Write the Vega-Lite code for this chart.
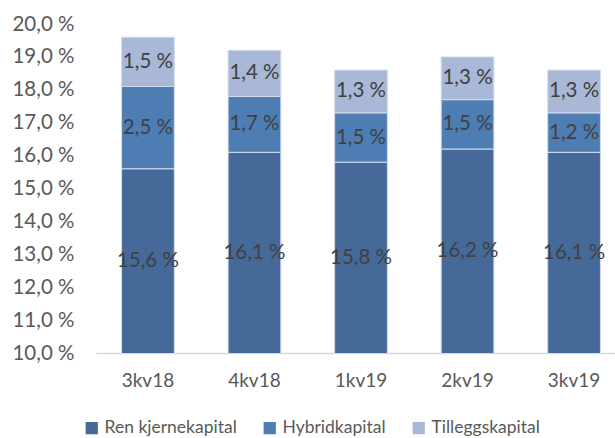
{
  "$schema": "https://vega.github.io/schema/vega-lite/v6.json",
  "width": 519,
  "height": 329,
  "autosize": "none",
  "padding": {"left": 96, "top": 24, "right": 0, "bottom": 85},
  "background": "white",
  "config": {
    "view": {"stroke": null},
    "font": "Lato",
    "axisY": {"labelOverlap": false, "tickCount": 11}
  },
  "data": {
    "values": [
      {"q": "3kv18", "type": "Ren kjernekapital", "ord": 1, "v": 15.6},
      {"q": "3kv18", "type": "Hybridkapital", "ord": 2, "v": 2.5},
      {"q": "3kv18", "type": "Tilleggskapital", "ord": 3, "v": 1.5},
      {"q": "4kv18", "type": "Ren kjernekapital", "ord": 1, "v": 16.1},
      {"q": "4kv18", "type": "Hybridkapital", "ord": 2, "v": 1.7},
      {"q": "4kv18", "type": "Tilleggskapital", "ord": 3, "v": 1.4},
      {"q": "1kv19", "type": "Ren kjernekapital", "ord": 1, "v": 15.8},
      {"q": "1kv19", "type": "Hybridkapital", "ord": 2, "v": 1.5},
      {"q": "1kv19", "type": "Tilleggskapital", "ord": 3, "v": 1.3},
      {"q": "2kv19", "type": "Ren kjernekapital", "ord": 1, "v": 16.2},
      {"q": "2kv19", "type": "Hybridkapital", "ord": 2, "v": 1.5},
      {"q": "2kv19", "type": "Tilleggskapital", "ord": 3, "v": 1.3},
      {"q": "3kv19", "type": "Ren kjernekapital", "ord": 1, "v": 16.1},
      {"q": "3kv19", "type": "Hybridkapital", "ord": 2, "v": 1.2},
      {"q": "3kv19", "type": "Tilleggskapital", "ord": 3, "v": 1.3}
    ]
  },
  "encoding": {
    "x": {
      "field": "q",
      "type": "nominal",
      "sort": ["3kv18", "4kv18", "1kv19", "2kv19", "3kv19"],
      "scale": {"range": [0, 530], "paddingInner": 0.505, "paddingOuter": 0.24},
      "axis": {
        "title": null,
        "labelAngle": 0,
        "ticks": false,
        "domain": true,
        "domainColor": "#d9d9d9",
        "domainWidth": 1.5,
        "labelPadding": 18,
        "labelFontSize": 19,
        "labelColor": "#595959",
        "labelFont": "Lato"
      }
    }
  },
  "layer": [
    {
      "mark": {"type": "bar", "clip": true, "stroke": "#d3dcea", "strokeWidth": 1},
      "encoding": {
        "y": {
          "field": "v",
          "type": "quantitative",
          "stack": "zero",
          "scale": {"domain": [10, 20], "zero": false, "nice": false},
          "axis": {
            "title": null,
            "values": [10, 11, 12, 13, 14, 15, 16, 17, 18, 19, 20],
            "labelExpr": "replace(format(datum.value, '.1f'), '.', ',') + ' %'",
            "labelOverlap": false,
            "domain": false,
            "ticks": false,
            "grid": false,
            "labelPadding": 22,
            "labelFontSize": 20.5,
            "labelColor": "#595959",
            "labelFont": "Lato"
          }
        },
        "order": {"field": "ord", "type": "quantitative"},
        "color": {
          "field": "type",
          "type": "nominal",
          "scale": {
            "domain": ["Ren kjernekapital", "Hybridkapital", "Tilleggskapital"],
            "range": ["#456A9A", "#4E7DB4", "#A9B8D6"]
          },
          "legend": {
            "title": null,
            "orient": "none",
            "legendX": -13,
            "legendY": 395,
            "direction": "horizontal",
            "symbolType": "square",
            "symbolSize": 150,
            "symbolStrokeWidth": 0,
            "labelFontSize": 17.5,
            "labelColor": "#595959",
            "labelFont": "Lato",
            "columnPadding": 24,
            "labelOffset": 4
          }
        }
      }
    },
    {
      "transform": [
        {"stack": "v", "groupby": ["q"], "sort": [{"field": "ord", "order": "ascending"}], "as": ["y0", "y1"]},
        {"calculate": "(max(datum.y0, 10) + datum.y1) / 2", "as": "mid"},
        {"calculate": "replace(format(datum.v, '.1f'), '.', ',') + ' %'", "as": "label"}
      ],
      "mark": {"type": "text", "fontSize": 20.5, "color": "#404040", "font": "Lato"},
      "encoding": {
        "y": {
          "field": "mid",
          "type": "quantitative",
          "axis": {
            "title": null,
            "values": [10, 11, 12, 13, 14, 15, 16, 17, 18, 19, 20],
            "labelExpr": "replace(format(datum.value, '.1f'), '.', ',') + ' %'",
            "labelOverlap": false,
            "domain": false,
            "ticks": false,
            "grid": false,
            "labelPadding": 22,
            "labelFontSize": 20.5,
            "labelColor": "#595959",
            "labelFont": "Lato"
          }
        },
        "text": {"field": "label", "type": "nominal"}
      }
    }
  ]
}
